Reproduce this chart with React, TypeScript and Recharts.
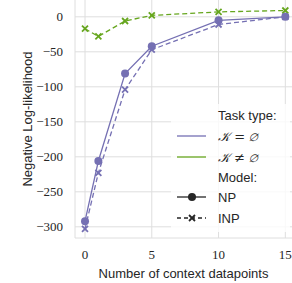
import { LineChart, Line, XAxis, YAxis, CartesianGrid } from "recharts";

const contextSizes = [0, 1, 3, 5, 10, 15];
const npEmpty = [-292, -206, -81, -42, -5, 0];
const inpEmpty = [-303, -223, -104, -47, -11, 0];
const inpNonEmpty = [-17, -28, -6, 2, 7, 9];

const xTicks = [0, 5, 10, 15];
const yTicks = [-300, -250, -200, -150, -100, -50, 0];

const PURPLE = "#7570b3";
const GREEN = "#66a61e";
const GRID = "#dedede";
const TEXT = "#262626";

const data = contextSizes.map((n, i) => ({
  n,
  npEmpty: npEmpty[i],
  inpEmpty: inpEmpty[i],
  inpNonEmpty: inpNonEmpty[i],
}));

// "x" marker like matplotlib's
const crossDot = (color: string) => (props: any) => {
  const { cx, cy, index } = props;
  if (cx == null || cy == null) return <g key={index} />;
  const s = 3;
  return (
    <g key={index} stroke={color} strokeWidth={1.8}>
      <line x1={cx - s} y1={cy - s} x2={cx + s} y2={cy + s} />
      <line x1={cx - s} y1={cy + s} x2={cx + s} y2={cy - s} />
    </g>
  );
};

const fmt = (v: number) => (v < 0 ? `\u2212${Math.abs(v)}` : `${v}`);

const tickStyle = { fontFamily: "'Liberation Serif', serif", fontSize: 13, fill: TEXT };
const labelFont = "'Liberation Sans', Arial, sans-serif";

export default function App() {
  return (
    <div style={{ position: "fixed", left: 0, top: 0, width: 292, height: 283, background: "#fff" }}>
      <LineChart width={292} height={283} data={data} margin={{ top: 0, right: 0, left: 0, bottom: 0 }}>
        <CartesianGrid stroke={GRID} strokeWidth={1} horizontalValues={yTicks} verticalValues={xTicks} />
        <XAxis
          dataKey="n"
          type="number"
          domain={[-0.75, 15.5]}
          ticks={xTicks}
          allowDataOverflow
          height={45}
          tickLine={false}
          axisLine={{ stroke: GRID }}
          tick={tickStyle}
          tickMargin={6}
          label={{ value: "Number of context datapoints", position: "insideBottom", offset: 5, style: { fontFamily: labelFont, fontSize: 13, fill: TEXT } }}
        />
        <YAxis
          type="number"
          domain={[-316, 24]}
          ticks={yTicks}
          allowDataOverflow
          width={75}
          tickLine={false}
          axisLine={{ stroke: GRID }}
          tick={tickStyle}
          tickFormatter={fmt}
          tickMargin={6}
          label={{ value: "Negative Log-likelihood", angle: -90, position: "insideLeft", offset: 27, style: { fontFamily: labelFont, fontSize: 13, fill: TEXT, textAnchor: "middle" } }}
        />
        <Line dataKey="inpNonEmpty" stroke={GREEN} strokeWidth={1.3} strokeDasharray="5 3" dot={crossDot(GREEN)} isAnimationActive={false} />
        <Line dataKey="npEmpty" stroke={PURPLE} strokeWidth={1.3} dot={{ r: 4, fill: PURPLE, stroke: PURPLE, strokeWidth: 0 }} isAnimationActive={false} />
        <Line dataKey="inpEmpty" stroke={PURPLE} strokeWidth={1.3} strokeDasharray="5 3" dot={crossDot(PURPLE)} isAnimationActive={false} />
      </LineChart>

      {/* Legend */}
      <svg width={292} height={283} style={{ position: "absolute", left: 0, top: 0, pointerEvents: "none" }}>
        <rect x={171} y={104} width={119} height={128} fill="#fff" fillOpacity={0.8} />
        <g fontFamily={labelFont} fontSize={13} fill={TEXT} dominantBaseline="central">
          <text x={218} y={115}>Task type:</text>
          <line x1={177} y1={136} x2={206} y2={136} stroke={PURPLE} strokeWidth={1.3} />
          <text x={218} y={136} fontFamily="'DejaVu Serif', serif" fontStyle="italic">{"\uD835\uDCA6 = \u2205"}</text>
          <line x1={177} y1={157} x2={206} y2={157} stroke={GREEN} strokeWidth={1.3} />
          <text x={218} y={157} fontFamily="'DejaVu Serif', serif" fontStyle="italic">{"\uD835\uDCA6 \u2260 \u2205"}</text>
          <text x={218} y={177}>Model:</text>
          <line x1={177} y1={197} x2={206} y2={197} stroke={TEXT} strokeWidth={1.3} />
          <circle cx={192} cy={197} r={4} fill={TEXT} />
          <text x={218} y={197}>NP</text>
          <line x1={177} y1={218} x2={206} y2={218} stroke={TEXT} strokeWidth={1.3} strokeDasharray="4 3" />
          <g stroke={TEXT} strokeWidth={1.8}>
            <line x1={189} y1={215} x2={195} y2={221} />
            <line x1={189} y1={221} x2={195} y2={215} />
          </g>
          <text x={218} y={218}>INP</text>
        </g>
      </svg>
    </div>
  );
}
